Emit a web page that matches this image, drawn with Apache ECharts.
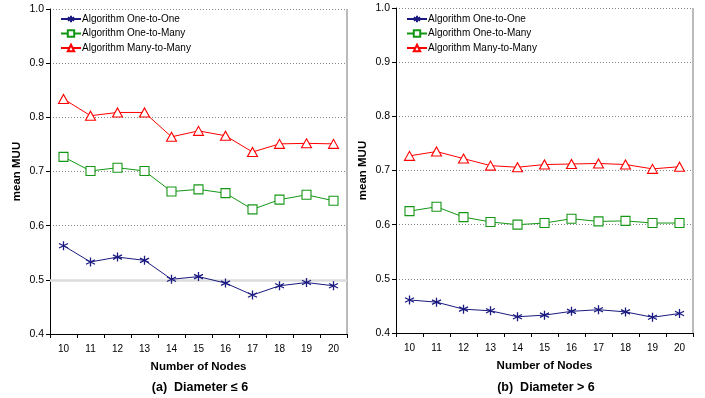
<!DOCTYPE html>
<html><head><meta charset="utf-8">
<script src="https://cdn.jsdelivr.net/npm/echarts@6/dist/echarts.min.js"></script>
<style>html,body{margin:0;padding:0;background:#fff}#c{width:705px;height:398px}</style>
</head><body><div id="c"></div>
<script>
const categories = ['10','11','12','13','14','15','16','17','18','19','20'];
const seriesNames = ['Algorithm One-to-One','Algorithm One-to-Many','Algorithm Many-to-Many'];
// (a) Diameter <= 6
const a_oneToOne   = [0.563,0.533,0.542,0.536,0.501,0.506,0.494,0.472,0.489,0.495,0.489];
const a_oneToMany  = [0.727,0.701,0.707,0.701,0.663,0.667,0.660,0.630,0.648,0.657,0.646];
const a_manyToMany = [0.834,0.803,0.809,0.809,0.764,0.775,0.766,0.736,0.751,0.752,0.751];
// (b) Diameter > 6
const b_oneToOne   = [0.461,0.457,0.444,0.441,0.430,0.433,0.440,0.443,0.439,0.429,0.436];
const b_oneToMany  = [0.625,0.633,0.614,0.605,0.600,0.603,0.611,0.606,0.607,0.603,0.603];
const b_manyToMany = [0.727,0.735,0.722,0.709,0.706,0.711,0.712,0.713,0.711,0.703,0.707];
const subtitles = ['(a)  Diameter \u2264 6', '(b)  Diameter > 6'];
const xName = 'Number of Nodes';
const yName = 'mean MUU';

const FONT = 'Liberation Sans, Arial, sans-serif';
const colors = ['#1a1a80', '#149614', '#ff0000'];
const star = 'path://M5,0L5,10M0.8,2.5L9.2,7.5M0.8,7.5L9.2,2.5';
const square = 'path://M0,0L10,0L10,10L0,10Z';
const tri = 'path://M5,0L10,9L0,9Z';
const symbols = [star, square, tri];
const sizes = [9, 9, [10, 9]];

const grids = [
  {left: 50, right: 358, top: 9, bottom: 64},
  {left: 396, right: 12, top: 8, bottom: 65}
];
const dataSets = [[a_oneToOne, a_oneToMany, a_manyToMany],[b_oneToOne, b_oneToMany, b_manyToMany]];

const xAxes = grids.map((g,i)=>({
  type:'category', gridIndex:i, data:categories, boundaryGap:true,
  axisLine:{lineStyle:{color:'#000',width:1}},
  axisTick:{show:true, alignWithLabel:false, length:4, lineStyle:{color:'#000'}},
  axisLabel:{color:'#000', fontSize:10, fontFamily:FONT, margin:10},
  name:xName, nameLocation:'middle', nameGap:27,
  nameTextStyle:{fontSize:11.5, fontWeight:'bold', fontFamily:FONT, color:'#000'}
}));
const yAxes = grids.map((g,i)=>({
  type:'value', gridIndex:i, min:0.4, max:1.0, interval:0.1,
  axisLine:{show:true, lineStyle:{color:'#000',width:1}},
  axisTick:{show:true, length:4, lineStyle:{color:'#000'}},
  axisLabel:{color:'#000', fontSize:10.5, fontFamily:FONT, margin:6, formatter:v=>v.toFixed(1)},
  splitLine:{show:true, lineStyle:{color:'#888', type:[1,2], width:1}},
  name:yName, nameLocation:'middle', nameGap:27, nameRotate:90,
  nameTextStyle:{fontSize:11.5, fontWeight:'bold', fontFamily:FONT, color:'#000'}
}));

const series = [];
dataSets.forEach((set,gi)=>{
  set.forEach((d,si)=>{
    const s = {
      type:'line', name:seriesNames[si], xAxisIndex:gi, yAxisIndex:gi, data:d,
      symbol:symbols[si], symbolSize:sizes[si], showAllSymbol:true,
      lineStyle:{color:colors[si], width:1},
      itemStyle: si===0 ? {color:colors[si], borderColor:colors[si], borderWidth:1.3}
                        : {color:'#fff', borderColor:colors[si], borderWidth:1.1},
      animation:false, z: 3
    };
    if (gi===0 && si===0) {
      s.markLine = {silent:true, symbol:'none', label:{show:false},
        lineStyle:{color:'#dcdcdc', type:'solid', width:2.5}, data:[{yAxis:0.5}], z:1};
    }
    series.push(s);
  });
});

const legends = grids.map((g,i)=>({
  left: i===0 ? 60 : 406, top: 14, padding:0, orient:'vertical', itemGap:4.5, itemWidth:20, itemHeight:8,
  data: seriesNames.map((n,si)=>({name:n})),
  textStyle:{fontSize:10, fontFamily:FONT, color:'#000', padding:[0,0,0,-4]},
  selectedMode:false
}));

const chart = echarts.init(document.getElementById('c'), null, {renderer:'canvas'});
chart.setOption({
  backgroundColor:'#fff',
  animation:false,
  grid: grids.map(g=>Object.assign({containLabel:false, show:true, borderColor:'#888', borderWidth:0}, g)),
  xAxis:xAxes, yAxis:yAxes, series:series,
  legend:legends,
  title: subtitles.map((t,i)=>({
    text:t, left: i===0 ? 200 : 546, top: 381, textAlign:'center', padding:0,
    textStyle:{fontSize:12.5, fontWeight:'bold', fontFamily:FONT, color:'#000'}
  })),
  graphic:[
    {type:'line', shape:{x1:347, y1:9, x2:347, y2:334}, style:{stroke:'#777', lineWidth:1}},
    {type:'line', shape:{x1:693, y1:8, x2:693, y2:333}, style:{stroke:'#777', lineWidth:1}}
  ]
});
</script></body></html>
